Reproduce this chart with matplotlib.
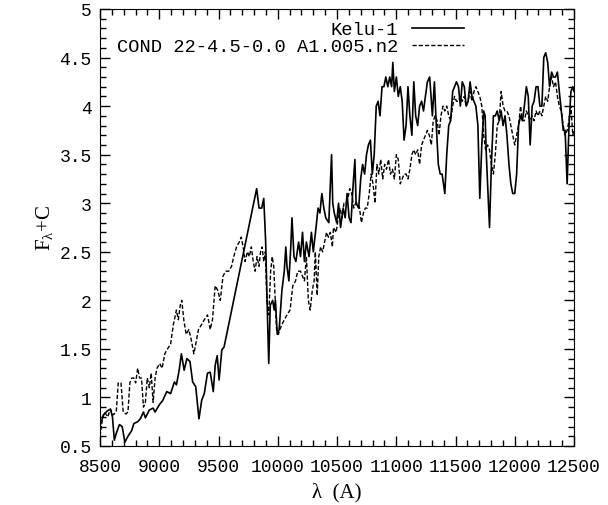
import numpy as np
import matplotlib
matplotlib.use('Agg')
import matplotlib.pyplot as plt
from matplotlib.ticker import MultipleLocator
from matplotlib.font_manager import FontProperties

kelu_wave = [8500, 8510, 8530, 8560, 8588, 8605, 8621, 8637, 8664, 8687, 8710, 8736, 8768, 8785,
             8818, 8840, 8867, 8883, 8916, 8948, 8965, 8998, 9030, 9063, 9096, 9128, 9145, 9168,
             9187, 9210, 9233, 9259, 9282, 9308, 9335, 9358, 9380, 9407, 9430, 9456, 9472, 9489,
             9505, 9528, 9547, 9822, 9842, 9865, 9882, 9898, 9914, 9924, 9937, 9957, 9970, 9980,
             9996, 10012, 10035, 10055, 10068, 10078, 10094, 10110, 10120, 10137, 10153, 10176,
             10192, 10209, 10225, 10242, 10264, 10284, 10300, 10323, 10340, 10356, 10372, 10389,
             10405, 10431, 10454, 10464, 10477, 10497, 10513, 10530, 10552, 10569, 10585, 10602,
             10618, 10634, 10651, 10661, 10683, 10700, 10716, 10733, 10749, 10765, 10782, 10798,
             10814, 10831, 10847, 10863, 10880, 10896, 10912, 10929, 10945, 10961, 10971, 10984,
             11001, 11017, 11034, 11050, 11066, 11083, 11099, 11115, 11132, 11148, 11164, 11181,
             11197, 11214, 11230, 11246, 11263, 11282, 11305, 11322, 11338, 11355, 11371, 11387,
             11410, 11426, 11443, 11459, 11476, 11492, 11508, 11525, 11541, 11557, 11574, 11590,
             11606, 11623, 11639, 11656, 11672, 11689, 11705, 11722, 11738, 11750, 11760, 11787,
             11803, 11820, 11836, 11852, 11869, 11885, 11902, 11918, 11934, 11951, 11967, 11983,
             12000, 12016, 12032, 12049, 12065, 12081, 12098, 12114, 12130, 12147, 12163, 12180,
             12196, 12212, 12229, 12245, 12261, 12278, 12294, 12311, 12327, 12344, 12360, 12376,
             12393, 12409, 12425, 12442, 12458, 12474, 12490, 12500]
kelu_flux = [0.70, 0.75, 0.82, 0.86, 0.88, 0.80, 0.56, 0.63, 0.72, 0.70, 0.54, 0.60, 0.66, 0.73,
             0.75, 0.78, 0.85, 0.79, 0.87, 0.89, 0.85, 0.92, 0.97, 1.06, 1.04, 1.16, 1.13, 1.28,
             1.45, 1.28, 1.40, 1.37, 1.16, 1.11, 0.78, 0.97, 1.04, 1.25, 1.26, 1.06, 1.33, 1.43,
             1.18, 1.49, 1.52, 3.15, 2.95, 2.95, 3.05, 2.60, 1.80, 1.35, 1.95, 2.00, 1.90, 2.00,
             1.65, 1.70, 2.10, 2.30, 2.55, 2.35, 2.20, 2.55, 2.85, 2.45, 2.40, 2.60,
             2.45, 2.70, 2.40, 2.60, 2.45, 2.70, 2.50, 2.75, 2.95, 2.90, 3.10, 2.95,
             2.85, 2.80, 3.50, 3.00, 2.90, 2.80, 3.00, 2.75, 2.95, 2.85, 3.10, 2.85,
             2.80, 3.15, 3.45, 3.00, 2.95, 3.25, 3.40, 3.30, 3.50, 3.60, 3.65, 3.30,
             3.50, 4.00, 4.05, 3.90, 4.20, 4.20, 4.30, 4.20, 4.30, 4.20, 4.45, 4.15,
             4.30, 4.10, 4.20, 4.05, 3.65, 3.80, 4.20, 3.90, 3.70, 4.25, 3.90, 3.80,
             4.00, 4.05, 3.95, 4.10, 4.25, 4.30, 3.90, 4.25, 3.80, 3.40, 3.30, 3.30,
             3.10, 3.50, 3.80, 3.85, 4.15, 4.20, 4.25, 4.20, 4.00, 4.25, 4.20, 4.00,
             4.05, 4.25, 4.10, 4.05, 4.00, 3.80, 3.05, 3.60, 3.95, 3.90, 3.50, 2.75,
             3.40, 3.90, 3.90, 3.95, 3.85, 3.95, 3.80, 3.90, 3.70, 3.40, 3.20, 3.10,
             3.10, 3.30, 3.80, 3.90, 3.85, 4.00, 4.20, 4.10, 3.60, 4.00, 4.05, 4.20,
             4.20, 4.00, 4.00, 4.50, 4.55, 4.45, 4.20, 4.35, 4.30, 4.30, 4.35, 4.15,
             3.95, 3.75, 3.75, 3.20, 3.80, 4.15, 4.20, 4.15]

# 模型光谱 COND
cond_wave = [8500, 8523, 8539, 8565, 8588, 8611, 8637, 8654, 8677, 8696, 8719, 8736, 8752, 8768,
             8785, 8801, 8818, 8834, 8850, 8867, 8883, 8899, 8916, 8932, 8948, 8965, 8981, 9004,
             9024, 9047, 9070, 9096, 9119, 9145, 9161, 9177, 9190, 9207, 9227, 9250, 9269, 9292,
             9308, 9331, 9357, 9380, 9407, 9430, 9449, 9472, 9495, 9515, 9538, 9561, 9587, 9610,
             9629, 9652, 9675, 9692, 9708, 9724, 9744, 9760, 9777, 9793, 9809, 9825, 9842, 9855,
             9868, 9882, 9895, 9908, 9924, 9940, 9953, 9966, 9979, 9990, 10005, 10018, 10035,
             10055, 10078, 10104, 10127, 10150, 10169, 10192, 10209, 10225, 10242, 10258, 10274,
             10291, 10307, 10317, 10333, 10346, 10362, 10379, 10395, 10412, 10428, 10444, 10461,
             10470, 10493, 10510, 10526, 10542, 10559, 10575, 10592, 10608, 10625, 10641, 10657,
             10674, 10690, 10706, 10723, 10739, 10755, 10772, 10788, 10804, 10821, 10837, 10853,
             10869, 10886, 10902, 10918, 10935, 10951, 10968, 10984, 11001, 11017, 11034, 11050,
             11066, 11083, 11099, 11115, 11132, 11148, 11164, 11181, 11197, 11214, 11230, 11246,
             11263, 11279, 11296, 11312, 11328, 11345, 11361, 11377, 11394, 11410, 11426, 11443,
             11459, 11476, 11492, 11508, 11525, 11541, 11557, 11574, 11590, 11606, 11623, 11639,
             11656, 11672, 11689, 11705, 11722, 11738, 11754, 11771, 11787, 11803, 11820, 11836,
             11852, 11869, 11885, 11902, 11918, 11934, 11951, 11967, 11983, 12000, 12016, 12032,
             12049, 12065, 12081, 12098, 12114, 12130, 12147, 12163, 12180, 12196, 12212, 12229,
             12245, 12261, 12278, 12294, 12311, 12327, 12344, 12360, 12376, 12393, 12409, 12425,
             12442, 12458, 12474, 12490, 12500]
cond_flux = [0.60, 0.80, 0.85, 0.80, 0.88, 0.82, 0.85, 1.15, 1.15, 0.85, 0.83, 0.85, 1.15, 1.20,
             1.20, 1.15, 1.30, 1.20, 1.20, 0.90, 0.95, 1.20, 1.10, 1.25, 0.95, 1.20, 1.30, 1.35,
             1.30, 1.45, 1.50, 1.55, 1.75, 1.90, 1.80, 1.95, 2.00, 1.80, 1.65, 1.70, 1.60, 1.45,
             1.55, 1.70, 1.75, 1.80, 1.85, 1.70, 1.80, 2.15, 2.10, 2.00, 2.25, 2.30, 2.30, 2.35,
             2.45, 2.55, 2.60, 2.65, 2.55, 2.40, 2.50, 2.45, 2.55, 2.40, 2.30, 2.45, 2.35, 2.50,
             2.55, 2.40, 2.50, 2.00, 1.85, 2.30, 2.45, 2.35, 2.00, 1.70, 1.65, 1.70, 1.75,
             1.80, 1.85, 1.90, 2.15, 2.20, 2.30, 2.30, 2.25, 2.20, 2.45, 2.00, 1.90,
             2.10, 2.20, 2.50, 2.05, 2.45, 2.55, 2.50, 2.60, 2.70, 2.65, 2.70, 2.55,
             2.75, 2.70, 2.85, 2.95, 2.85, 3.00, 3.00, 3.05, 3.15, 3.10, 2.95, 3.00,
             3.00, 2.95, 2.80, 2.90, 2.95, 2.95, 3.10, 3.30, 3.20, 3.00, 3.40, 3.30,
             3.45, 3.25, 3.40, 3.35, 3.45, 3.30, 3.35, 3.25, 3.50, 3.45, 3.20, 3.25,
             3.30, 3.30, 3.25, 3.35, 3.50, 3.55, 3.50, 3.55, 3.40, 3.60, 3.65, 3.70,
             3.75, 3.70, 3.60, 3.85, 3.90, 3.85, 3.70, 3.90, 4.00, 3.95, 4.00, 3.90,
             3.85, 4.00, 4.10, 4.05, 4.05, 4.10, 4.05, 4.10, 4.00, 4.05, 4.15, 4.05,
             4.15, 4.20, 4.15, 4.10, 4.00, 3.70, 3.55, 3.60, 3.55, 3.40, 3.30, 3.50,
             3.80, 3.85, 4.15, 4.00, 3.95, 3.95, 3.90, 3.80, 3.70, 3.60, 3.70, 3.80,
             4.00, 3.85, 3.85, 3.95, 3.90, 3.85, 3.90, 3.85, 3.95, 3.90, 3.95, 3.90,
             4.00, 4.10, 4.05, 4.20, 4.30, 4.20, 4.25, 4.10, 4.00, 3.95, 3.80, 3.70,
             3.75, 3.85, 4.00, 3.70, 3.75]

labels = ['Kelu-1', 'COND 22-4.5-0.0 A1.005.n2']

plt.rcParams['mathtext.fontset'] = 'custom'
plt.rcParams['mathtext.rm'] = 'Liberation Serif'
plt.rcParams['mathtext.it'] = 'Liberation Serif'

mono = FontProperties(family='Liberation Mono', size=13)

fig = plt.figure(figsize=(6.08, 5.06), dpi=100)
ax = fig.add_axes([100 / 608, 59 / 506, 474 / 608, 437 / 506])

ax.plot(kelu_wave, kelu_flux, color='black', lw=1.2, label=labels[0])
ax.plot(cond_wave, cond_flux, color='black', lw=1.0, linestyle=(0, (3, 1.5)), label=labels[1])

ax.set_xlim(8500, 12500)
ax.set_ylim(0.5, 5)
ax.xaxis.set_major_locator(MultipleLocator(500))
ax.xaxis.set_minor_locator(MultipleLocator(100))
ax.yaxis.set_major_locator(MultipleLocator(0.5))
ax.yaxis.set_minor_locator(MultipleLocator(0.1))
ax.yaxis.set_major_formatter(matplotlib.ticker.FuncFormatter(lambda v, p: f'{v:g}'))
ax.tick_params(which='both', direction='in', top=True, right=True, width=1)
ax.tick_params(which='major', length=7, pad=6)
ax.tick_params(axis='x', which='major', pad=9)
ax.tick_params(which='minor', length=4)
for lab in ax.get_xticklabels() + ax.get_yticklabels():
    lab.set_fontproperties(mono)

ax.set_xlabel('λ  (A)', fontfamily='Liberation Serif', fontsize=15, labelpad=5)
ax.set_ylabel(r'F$_{\mathrm{\lambda}}$+C', fontfamily='Liberation Serif', fontsize=15, labelpad=3)

leg = ax.legend(loc='upper right', bbox_to_anchor=(464 / 608, 1 - 22 / 506),
                bbox_transform=fig.transFigure, frameon=False, markerfirst=False,
                handlelength=2.8, handletextpad=0.7, borderpad=0, borderaxespad=0,
                labelspacing=0.0, prop=FontProperties(family='Liberation Mono', size=13.5))
for t in leg.get_texts():
    t.set_ha('right')

fig.savefig('out.png', dpi=100)
